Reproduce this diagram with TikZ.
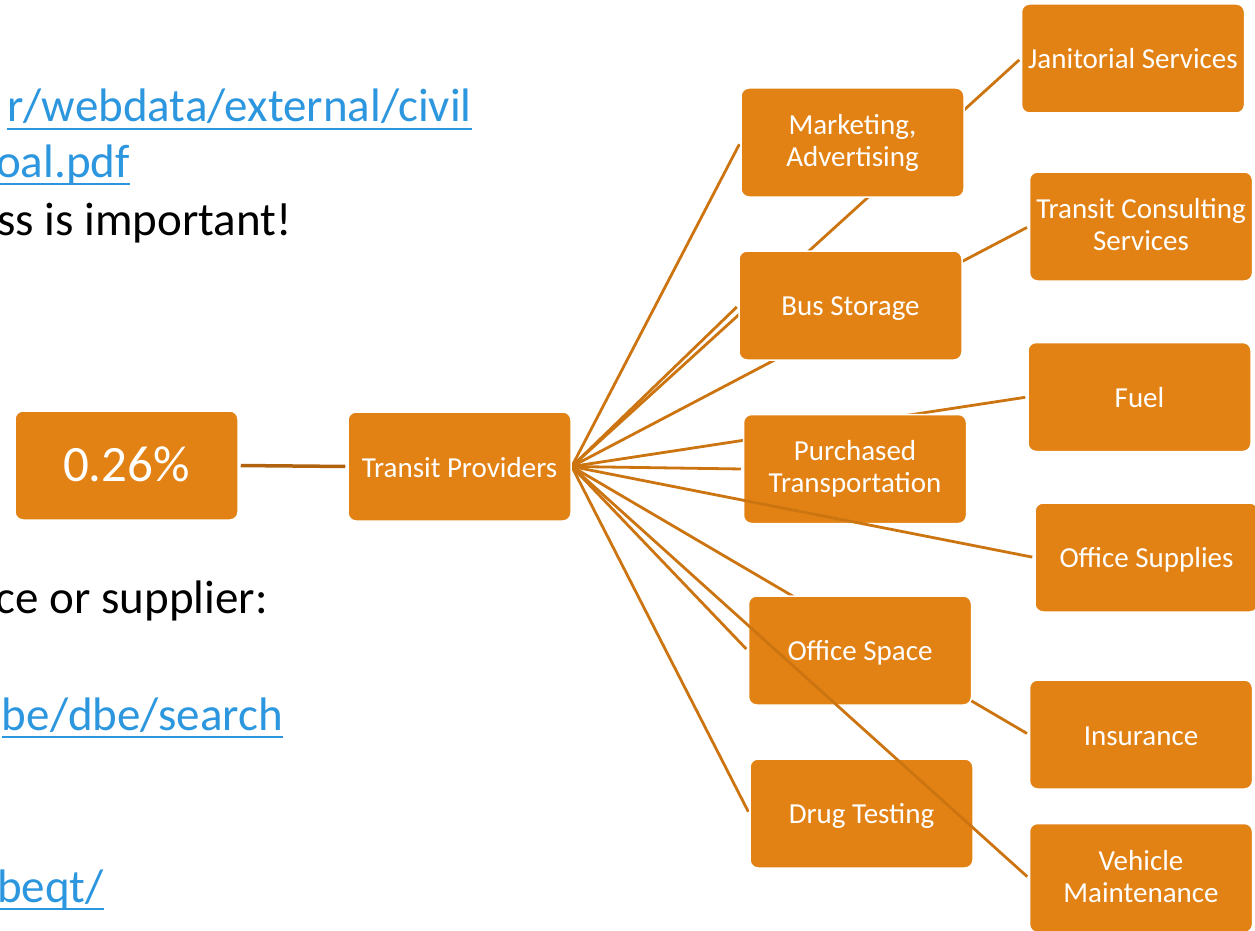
\documentclass[tikz,border=0pt]{standalone}
\usepackage{fontspec}
\setmainfont{Carlito}
\definecolor{boxfill}{RGB}{227,130,20}
\definecolor{linec}{RGB}{204,116,16}
\definecolor{darkline}{RGB}{176,98,14}
\definecolor{linkblue}{RGB}{44,150,222}
\newcommand{\bxs}{\rule[-3.5pt]{0pt}{28pt}}
\pgfdeclarelayer{bg}
\pgfdeclarelayer{mid}
\pgfdeclarelayer{front}
\pgfsetlayers{bg,main,mid,front}
\begin{document}
\begin{tikzpicture}[x=1pt,y=-1pt,
  box/.style={rectangle, rounded corners=8pt, fill=boxfill, draw=white, line width=1.5pt,
    minimum width=223pt, minimum height=109pt, text=white, align=center,
    font=\fontsize{29}{32}\selectfont, inner sep=0pt,
    execute at begin node=\bxs, execute at end node=\bxs},
  link/.style={draw=linec, line width=2.8pt, shorten >=2pt},
  url/.style={text=linkblue, font=\fontsize{47}{56}\selectfont, inner sep=0pt, anchor=base east},
  plaintext/.style={text=black, font=\fontsize{47}{56}\selectfont, inner sep=0pt, anchor=base east},
  ul/.style={draw=linkblue, line width=2.6pt}]
\useasboundingbox (0,0) rectangle (1255,931);

% left text fragments (cut off at the left edge, as in the reference)
\node[url] (u1) at (472,122) {r/webdata/external/civil};
\node[url] (u2) at (130,177) {oal.pdf};
\node[plaintext] (t1) at (292,235) {ss is important!};
\node[plaintext] (t2) at (268,613) {ce or supplier:};
\node[url] (u3) at (283,730) {be/dbe/search};
\node[url] (u4) at (104,902) {beqt/};
\foreach \n in {u1,u2,u3,u4}
  \draw[ul] ([yshift=-7pt]\n.base west) -- ([yshift=-7pt]\n.base east);

% first-level boxes
\node[box] (mkt) at (852.5,142.5) {Marketing,\\Advertising};
\node[box] (bus) at (850.5,305.5) {Bus Storage};
\node[box] (pur) at (855,469) {Purchased\\Transportation};
\node[box] (osp) at (860,650.5) {Office Space};
\node[box] (drug) at (861.5,813.5) {Drug Testing};

\begin{pgfonlayer}{front}
\node[box] (tp) at (459.5,466.5) {Transit Providers};
\node[box] (jan) at (1133,58.5) {Janitorial Services};
\node[box] (tcs) at (1141,226.5) {Transit Consulting\\Services};
\node[box] (fuel) at (1139.5,397) {Fuel};
\node[box] (osup) at (1146.5,557.5) {Office Supplies};
\node[box] (ins) at (1141,734.5) {Insurance};
\node[box] (veh) at (1141,878) {Vehicle\\Maintenance};
\node[box, font=\fontsize{51}{60}\selectfont, execute at begin node={}, execute at end node={}]
  (pct) at (126.5,465.5) {0.26\%};
\end{pgfonlayer}

% connectors running behind the boxes
\begin{pgfonlayer}{bg}
\foreach \t in {mkt,bus,jan,tcs,fuel,pur,ins,osp,drug}
  \draw[link] (tp.east) -- (\t.west);
\draw[draw=darkline, line width=3.5pt, shorten <=2pt, shorten >=2pt] (pct.east) -- (tp.west);
\end{pgfonlayer}

% connectors crossing over the boxes
\begin{pgfonlayer}{mid}
\foreach \t in {osup,veh}
  \draw[link] (tp.east) -- (\t.west);
\end{pgfonlayer}
\end{tikzpicture}
\end{document}
